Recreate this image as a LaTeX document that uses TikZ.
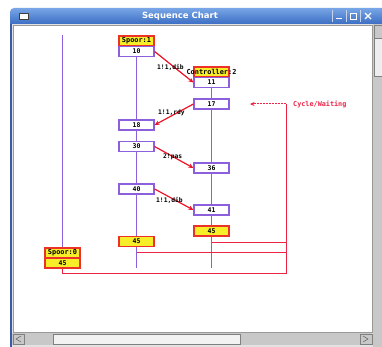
\documentclass[tikz,border=0pt]{standalone}
\usepackage{fontspec}
\newfontfamily\monob{DejaVu Sans Mono}
\newfontfamily\titlef{DejaVu Sans}
\usetikzlibrary{arrows.meta}
\definecolor{lifec}{RGB}{140,96,220}
\definecolor{msgred}{RGB}{236,20,40}
\definecolor{cycred}{RGB}{238,36,70}
\definecolor{yfill}{RGB}{246,238,40}
\definecolor{yborder}{RGB}{236,50,40}
\definecolor{tbtop}{RGB}{120,166,230}
\definecolor{tbbot}{RGB}{60,110,196}
\definecolor{winblue}{RGB}{60,90,170}
\definecolor{framegray}{RGB}{226,226,226}
\definecolor{sbgray}{RGB}{200,200,200}
\pgfdeclarelayer{bg}
\pgfdeclarelayer{mid}
\pgfsetlayers{bg,mid,main}
\begin{document}
\begin{tikzpicture}[x=1pt,y=-1pt,
  box/.style={draw=lifec, fill=white, line width=1.2pt, minimum width=35pt,
    minimum height=10pt, inner sep=0pt, font=\monob\bfseries\fontsize{6.5}{7}\selectfont},
  ybox/.style={box, draw=yborder, fill=yfill},
  headtext/.style={inner sep=0pt, font=\monob\bfseries\fontsize{6.9}{7}\selectfont},
  msg/.style={draw=msgred, line width=1.2pt, -{Stealth[length=5pt,width=4.5pt]}},
  mlabel/.style={anchor=west, inner sep=0pt, font=\monob\bfseries\fontsize{6.3}{7}\selectfont},
  life/.style={draw=lifec, line width=1.2pt},
  cyc/.style={draw=cycred, line width=1pt}]
\useasboundingbox (0,0) rectangle (382,347);
% ---------- window ----------
\begin{pgfonlayer}{bg}
\fill[white] (0,0) rectangle (382,347);
\fill[framegray] (10,22) rectangle (382,347);
\fill[white] (13,25) rectangle (372,332);
\draw[gray!80, line width=0.6pt] (13,25) rectangle (372,332);
\fill[winblue] (10,20) rectangle (12,347);
\shade[top color=tbtop, bottom color=tbbot] (10,24) [rounded corners=4pt] -- (10,8) -- (392,8) [sharp corners] -- (392,24) -- cycle;
% icon
\draw[fill=white, draw=black!75, line width=0.6pt] (19,13) rectangle (28,19);
% buttons
\draw[white!70!tbbot, line width=0.5pt] (332,10) -- (332,22) (346,10) -- (346,22) (360,10) -- (360,22);
\draw[white, line width=1pt] (336,19) -- (342,19);
\draw[white, line width=0.8pt] (350,13) rectangle (356,19);
\draw[white, line width=1.2pt] (365,13) -- (371,19) (365,19) -- (371,13);
% vertical scrollbar
\fill[sbgray] (373,24) rectangle (382,347);
\fill[framegray!60!white] (374,38) rectangle (382,76);
\draw[gray] (374,25) rectangle (382,38);
\draw[gray] (374,38) rectangle (382,76);
% horizontal scrollbar
\fill[sbgray] (12,333) rectangle (372,345);
\fill[white!90!gray] (53,334) rectangle (240,344);
\draw[gray] (53,334) rectangle (240,344);
\draw[gray] (13,334) rectangle (24,344);
\draw[gray] (360,334) rectangle (372,344);
\draw[gray!70!black, line width=0.5pt] (21,336) -- (16,339) -- (21,342);
\draw[gray!70!black, line width=0.5pt] (363,336) -- (368,339) -- (363,342);
\end{pgfonlayer}
\node[font=\titlef\bfseries\fontsize{8.5}{9}\selectfont, text=white] (title) at (180,16) {Sequence Chart};
% ---------- lifeline 1 ----------
\node[ybox] (sp1) at (136.5,41) {};
\node[headtext] (sp1t) at (sp1) {Spoor:1};
\node[box] (b10) at (136.5,51.5) {10};
\node[box] (b18) at (136.5,125) {18};
\node[box] (b30) at (136.5,146.5) {30};
\node[box] (b40) at (136.5,189) {40};
\node[ybox] (b45a) at (136.5,241.5) {45};
% ---------- lifeline 2 ----------
\node[ybox] (ctl) at (211.5,72) {};
\node[headtext] (ctlt) at (ctl) {Controller:2};
\node[box] (b11) at (211.5,82.5) {11};
\node[box] (b17) at (211.5,104) {17};
\node[box] (b36) at (211.5,168) {36};
\node[box] (b41) at (211.5,210) {41};
\node[ybox] (b45b) at (211.5,231) {45};
% ---------- lifeline 0 ----------
\node[ybox] (sp0) at (62.5,253) {};
\node[headtext] (sp0t) at (sp0) {Spoor:0};
\node[ybox] (b45c) at (62.5,263) {45};
% ---------- lifelines ----------
\coordinate (top0) at (62.5,35);
\coordinate (end1) at (136.5,268);
\coordinate (end2) at (211.5,268);
\coordinate (c2) at (211.5,242);
\coordinate (c1) at (136.5,252);
\coordinate (r2) at (286,242);
\coordinate (r1) at (286,252);
\coordinate (br) at (286,273);
\coordinate (rt) at (286,104);
\coordinate (ah) at (250,104);
\begin{pgfonlayer}{mid}
\draw[life] (top0) -- (sp0.north);
\draw[life] (b10.south) -- (end1);
\draw[life] (b11.south) -- (end2);
\draw[cyc] (c2) -- (r2);
\draw[cyc] (c1) -- (r1);
\draw[cyc] (b45c.south) |- (br) -- (rt);
\end{pgfonlayer}
\draw[cyc, dash pattern=on 2pt off 1pt, -{Stealth[length=4.5pt,width=4pt]}] (rt) -- (ah);
\node[anchor=west, inner sep=0pt, text=cycred, font=\monob\bfseries\fontsize{6.8}{7}\selectfont] (cw) at (293,104) {Cycle/Waiting};
% ---------- messages ----------
\draw[msg] (b10.east) -- (b11.west);
\node[mlabel] (l1) at (157,67) {1!1,dib};
\draw[msg] (b17.west) -- (b18.east);
\node[mlabel] (l2) at (158,113) {1!1,rdy};
\draw[msg] (b30.east) -- (b36.west);
\node[mlabel] (l3) at (163,157) {2!pas};
\draw[msg] (b40.east) -- (b41.west);
\node[mlabel] (l4) at (156,200) {1!1,dib};
\end{tikzpicture}
\end{document}
